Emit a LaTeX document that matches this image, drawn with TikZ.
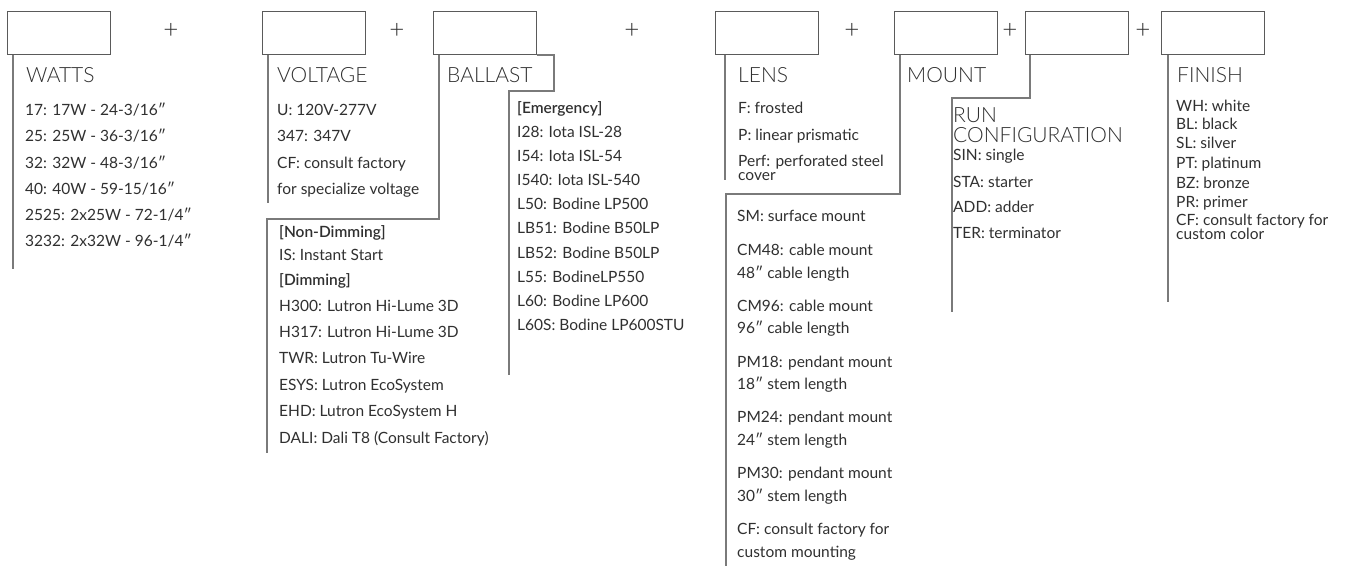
\documentclass[tikz,border=0pt]{standalone}
\usepackage{fontspec}
\setmainfont{Lato}
\newfontfamily\headfont{Lato Light}
\newfontfamily\semifont{Lato Semibold}
\definecolor{rulegray}{HTML}{7A7A7A}
\definecolor{boxgray}{HTML}{5A5A5A}
\definecolor{inkgray}{HTML}{303030}

\tikzset{
  selbox/.style={draw=boxgray, line width=1pt, anchor=north west,
    minimum width=103pt, minimum height=43pt, inner sep=0pt},
  lead/.style={draw=rulegray, line width=1.1pt},
  head/.style={anchor=base west, inner sep=0pt, text=inkgray,
    font=\headfont\fontsize{21}{20}\selectfont},
  item/.style={anchor=base west, inner sep=0pt, text=inkgray,
    font=\fontsize{15.5}{18}\selectfont},
  plus/.style={inner sep=0pt, text=inkgray, font=\headfont\fontsize{26}{26}\selectfont},
}

\begin{document}
\begin{tikzpicture}[x=1pt, y=-1pt]
  \path[use as bounding box, fill=white] (0,0) rectangle (1348,569);

  % selection boxes
  \node[selbox] (watts)   at (7,11)    {};
  \node[selbox] (voltage) at (262,11)  {};
  \node[selbox] (ballast) at (433,11)  {};
  \node[selbox] (lens)    at (715,11)  {};
  \node[selbox] (mount)   at (894,11)  {};
  \node[selbox] (run)     at (1025,11) {};
  \node[selbox] (finish)  at (1161,11) {};

  % plus signs
  \node[plus] (plusA) at (171,31)  {+};
  \node[plus] (plusB) at (397,31)  {+};
  \node[plus] (plusC) at (632,31)  {+};
  \node[plus] (plusD) at (852,31)  {+};
  \node[plus] (plusE) at (1010,31) {+};
  \node[plus] (plusF) at (1143,31) {+};

  % leader lines
  \coordinate (wattsEnd)  at (13,269);
  \coordinate (voltEnd)   at (268,203);
  \coordinate (dimTop)    at (267,219);
  \coordinate (dimEnd)    at (267,453);
  \coordinate (emTop)     at (509,91);
  \coordinate (emEnd)     at (509,375);
  \coordinate (lensEnd)   at (725,180);
  \coordinate (mountTop)  at (726,194);
  \coordinate (mountEnd)  at (726,566);
  \coordinate (runTop)    at (952,98);
  \coordinate (runEnd)    at (952,312);
  \coordinate (finishEnd) at (1168,302);
  \draw[lead] (watts.south west -| wattsEnd) -- (wattsEnd);
  \draw[lead] (voltage.south west -| voltEnd) -- (voltEnd);
  \draw[lead] ([xshift=6pt]ballast.south west) |- (dimTop) -- (dimEnd);
  \draw[lead] (ballast.south east) -- ++(17,0) |- (emTop) -- (emEnd);
  \draw[lead] (lens.south west -| lensEnd) -- (lensEnd);
  \draw[lead] ([xshift=6pt]mount.south west) |- (mountTop) -- (mountEnd);
  \draw[lead] ([xshift=5pt]run.south west) |- (runTop) -- (runEnd);
  \draw[lead] (finish.south west -| finishEnd) -- (finishEnd);

  % headings
  \node[head] (wattsHead)   at (26,83)   {WATTS};
  \node[head] (voltHead)    at (277,83)  {VOLTAGE};
  \node[head] (ballastHead) at (447,83)  {BALLAST};
  \node[head] (lensHead)    at (738,83)  {LENS};
  \node[head] (mountHead)   at (907,83)  {MOUNT};
  \node[head] (runHead)     at (953,122.5) {RUN};
  \node[head] (configHead)  at (953,142.5) {CONFIGURATION};
  \node[head] (finishHead)  at (1177,83) {FINISH};

  % option lists
  \foreach \txt [count=\i from 0] in {17: 17W - 24-3/16″, 25: 25W - 36-3/16″,
      32: 32W - 48-3/16″, 40: 40W - 59-15/16″, 2525: 2x25W - 72-1/4″,
      3232: 2x32W - 96-1/4″}
    \node[item] (watt\i) at (25,{115.5+26.3*\i}) {\txt};
  \foreach \txt [count=\i from 0] in {U: 120V-277V, 347: 347V,
      CF: consult factory, for specialize voltage}
    \node[item] (volt\i) at (277,{115.5+26.3*\i}) {\txt};
  \foreach \y/\txt [count=\i] in {237.5/{\semifont [Non-Dimming]},
      260/IS: Instant Start, 285.5/{\semifont [Dimming]},
      311.5/H300: Lutron Hi-Lume 3D, 337.5/H317: Lutron Hi-Lume 3D,
      363.5/TWR: Lutron Tu-Wire, 390/ESYS: Lutron EcoSystem,
      416.5/EHD: Lutron EcoSystem H, 443.5/DALI: Dali T8 (Consult Factory)}
    \node[item] (dim\i) at (279,\y) {\txt};
  \foreach \txt [count=\i from 0] in {{\semifont [Emergency]}, I28: Iota ISL-28,
      I54: Iota ISL-54, I540: Iota ISL-540, L50: Bodine LP500,
      LB51: Bodine B50LP, LB52: Bodine B50LP, L55: BodineLP550,
      L60: Bodine LP600, L60S: Bodine LP600STU}
    \node[item] (em\i) at (517,{113.5+24.1*\i}) {\txt};
  \foreach \y/\txt [count=\i] in {113.5/F: frosted, 140.5/P: linear prismatic,
      166.5/Perf: perforated steel, 180.5/cover}
    \node[item] (lensOpt\i) at (738,\y) {\txt};
  \foreach \y/\txt [count=\i] in {222/SM: surface mount,
      255/CM48: cable mount, 278/48″ cable length,
      311/CM96: cable mount, 333.5/96″ cable length,
      367/PM18: pendant mount, 389.5/18″ stem length,
      422.5/PM24: pendant mount, 445/24″ stem length,
      478.5/PM30: pendant mount, 501/30″ stem length,
      534.5/CF: consult factory for, 557/custom mounting}
    \node[item] (mountOpt\i) at (737,\y) {\txt};
  \foreach \y/\txt [count=\i] in {160.5/SIN: single, 187.5/STA: starter,
      212.5/ADD: adder, 238.5/TER: terminator}
    \node[item] (runOpt\i) at (953,\y) {\txt};
  \foreach \y/\txt [count=\i] in {111.5/WH: white, 130/BL: black,
      149/SL: silver, 168.5/PT: platinum, 188.5/BZ: bronze,
      207.5/PR: primer, 225.5/CF: consult factory for, 240/custom color}
    \node[item] (finishOpt\i) at (1176,\y) {\txt};
\end{tikzpicture}
\end{document}
